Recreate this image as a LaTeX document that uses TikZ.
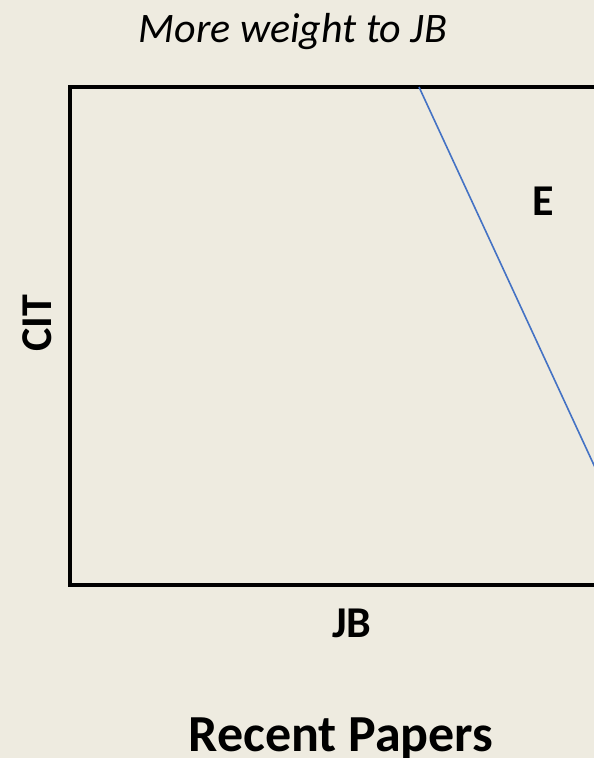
\documentclass[tikz,border=0pt]{standalone}
\usepackage{fontspec}
\setmainfont{Carlito}
\definecolor{bgbeige}{HTML}{EEEBE0}
\definecolor{lineblue}{HTML}{4472C4}
\tikzset{
  lbl/.style={inner sep=0pt, anchor=base, font=\fontsize{44}{50}\selectfont\bfseries},
  frame/.style={line width=4.5pt, line join=miter},
  divider/.style={draw=lineblue, line width=1.6pt}
}
\begin{document}
\begin{tikzpicture}[x=1pt,y=-1pt]
\useasboundingbox (0,0) rectangle (594,758);
\clip (0,0) rectangle (594,758);
\fill[bgbeige] (0,0) rectangle (594,758);
\draw[frame] (640,87) -- (70,87) -- (70,585) -- (640,585);
\coordinate (ltop) at (419,87);
\coordinate (lbot) at (624,530);
\draw[divider] (ltop) -- (lbot);
\node[inner sep=0pt, anchor=base, font=\fontsize{42}{50}\selectfont\itshape] (title) at (293,42) {More weight to JB};
\node[lbl] (E) at (543,215) {E};
\node[lbl, rotate=90] (cit) at (51,323) {CIT};
\node[lbl] (jb) at (352,637) {JB};
\node[inner sep=0pt, anchor=base, font=\fontsize{52}{60}\selectfont\bfseries] (recent) at (341,751) {Recent Papers};
\end{tikzpicture}
\end{document}
